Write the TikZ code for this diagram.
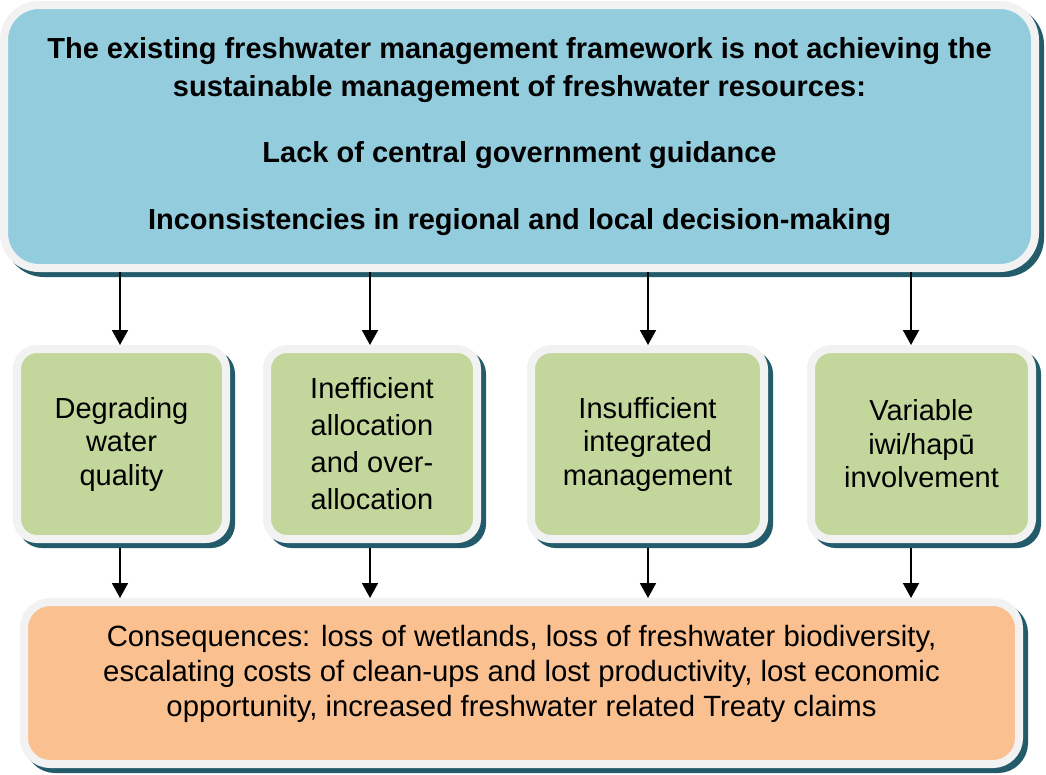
\documentclass[tikz,border=0pt]{standalone}
\usepackage{fontspec}
\setmainfont{Liberation Sans}
\usetikzlibrary{positioning, arrows.meta, shadows}
\definecolor{rim}{HTML}{F2F2F2}
\definecolor{topblue}{HTML}{93CDDD}
\definecolor{causegreen}{HTML}{C3D69B}
\definecolor{resultorange}{HTML}{FAC090}
\definecolor{shadowteal}{HTML}{235B6A}
\tikzstyle{shadowed} = [drop shadow={shadow xshift=5pt, shadow yshift=-5pt, opacity=1, fill=shadowteal, draw=shadowteal, line width=8pt}]
\tikzstyle{problem} = [rectangle, rounded corners=35pt, draw=rim, line width=8pt, fill=topblue, shadowed, minimum width=1031pt, minimum height=263pt, inner sep=0pt, align=center, font=\fontsize{29}{38}\selectfont\bfseries]
\tikzstyle{cause} = [rectangle, rounded corners=20pt, draw=rim, line width=8pt, fill=causegreen, shadowed, minimum height=190pt, inner sep=0pt, align=center, font=\fontsize{29}{33.5}\selectfont]
\tikzstyle{result} = [rectangle, rounded corners=26pt, draw=rim, line width=8pt, fill=resultorange, shadowed, minimum width=995pt, minimum height=162pt, inner sep=0pt, align=center, font=\fontsize{29.3}{35}\selectfont]
\tikzstyle{arrow} = [line width=1.8pt, -{Triangle[width=16pt, length=15pt]}]

\begin{document}
\begin{tikzpicture}[x=1pt, y=-1pt]
  \useasboundingbox (0,0) rectangle (1046,774);

  % Problem statement (top)
  \node (problem) [problem] at (519.5,136.5) {The existing freshwater management framework is not achieving the\\
    sustainable management of freshwater resources:\\[28pt]
    Lack of central government guidance\\[29pt]
    Inconsistencies in regional and local decision-making};

  % Causes (middle row)
  \node (quality) [cause, minimum width=209pt] at (121.5,444) {Degrading\\water\\quality};
  \node (allocation) [cause, minimum width=210pt, font=\fontsize{29}{37}\selectfont] at (372,444) {Inefficient\\allocation\\and over-\\allocation};
  \node (integrated) [cause, minimum width=233pt] at (647.5,444) {Insufficient\\integrated\\management};
  \node (iwi) [cause, minimum width=221pt] at (921.5,444) {Variable\\iwi/hapū\\involvement};

  % Consequences (bottom)
  \node (consequences) [result] at (521.5,683) {Consequences: loss of wetlands, loss of freshwater biodiversity,\\
    escalating costs of clean-ups and lost productivity, lost economic\\
    opportunity, increased freshwater related Treaty claims\\[-10pt]};

  % Arrows - problem to causes, causes to consequences
  \foreach \c/\dx in {quality/-1.5, allocation/-2, integrated/0.5, iwi/-10.5} {
    \draw[arrow] ([xshift=\dx pt]problem.south -| \c) -- ([xshift=\dx pt]\c.north);
    \draw[arrow] ([xshift=\dx pt, yshift=-5pt]\c.south) -- ([xshift=\dx pt]\c.south |- consequences.north);
  }

\end{tikzpicture}
\end{document}
